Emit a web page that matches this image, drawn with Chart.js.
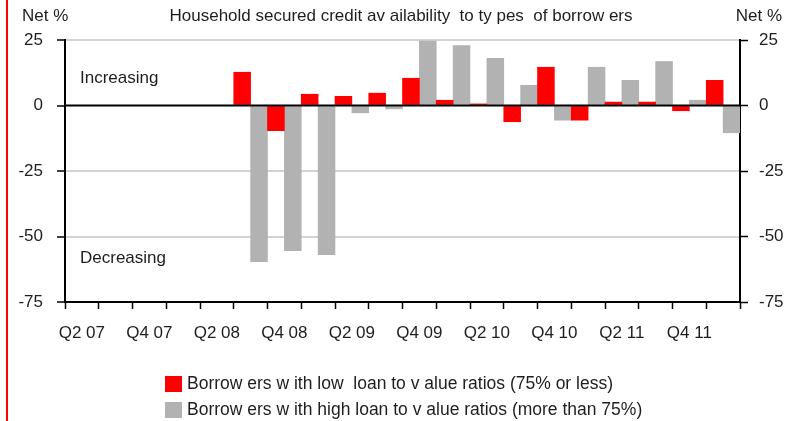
<!DOCTYPE html>
<html>
<head>
<meta charset="utf-8">
<script src="https://cdn.jsdelivr.net/npm/chart.js@4/dist/chart.umd.min.js"></script>
<style>
  html, body { margin: 0; padding: 0; background: #fff; }
  #wrap { position: relative; width: 796px; height: 421px; }
</style>
</head>
<body>
<div id="wrap"><canvas id="c" width="796" height="421"></canvas></div>
<script>
// Quarterly survey balances, net % of lenders
const quarters = ['Q2 07','Q3 07','Q4 07','Q1 08','Q2 08','Q3 08','Q4 08','Q1 09','Q2 09','Q3 09',
                  'Q4 09','Q1 10','Q2 10','Q3 10','Q4 10','Q1 11','Q2 11','Q3 11','Q4 11','Q1 12'];
const lowLtv  = [null, null, null, null, null, 12.7, -9.6, 4.3, 3.5, 4.7,
                 10.4, 2.0, 0.6, -6.2, 14.6, -5.6, 1.3, 1.3, -2.0, 9.6];
const highLtv = [null, null, null, null, null, -59.6, -55.4, -56.9, -2.8, -1.3,
                 24.6, 22.9, 18.0, 7.7, -5.6, 14.6, 9.6, 16.8, 2.0, -10.4];
const yTicks = [25, 0, -25, -50, -75];
const seriesNames = ['Borrow ers w ith low  loan to v alue ratios (75% or less)',
                     'Borrow ers w ith high loan to v alue ratios (more than 75%)'];
const titleText = 'Household secured credit av ailability  to ty pes  of borrow ers';

const FONT = '"Liberation Sans", Arial, sans-serif';
const TEXT = '#1e1e1e';

const decorations = {
  id: 'decorations',
  afterDatasetsDraw(chart) {
    const { ctx, chartArea: a, scales } = chart;
    const y0 = scales.y.getPixelForValue(0);
    ctx.save();
    ctx.strokeStyle = '#000';
    ctx.lineWidth = 2;
    ctx.beginPath();
    ctx.moveTo(a.left, y0);
    ctx.lineTo(a.right, y0);
    ctx.stroke();
    ctx.restore();
  },
  afterDraw(chart) {
    const { ctx, scales } = chart;
    ctx.save();
    // red rule down the left edge
    ctx.fillStyle = '#ff0000';
    ctx.fillRect(6, 0, 2, chart.height);

    ctx.fillStyle = TEXT;
    ctx.font = '17px ' + FONT;
    ctx.textBaseline = 'middle';
    // title and axis captions
    ctx.textAlign = 'center';
    ctx.fillText(titleText, 401, 16);
    ctx.textAlign = 'left';
    ctx.fillText('Net %', 22, 16);
    ctx.textAlign = 'right';
    ctx.fillText('Net %', 782, 16);

    // region notes
    ctx.textAlign = 'left';
    ctx.fillText('Increasing', 80, scales.y.getPixelForValue(10.2));
    ctx.fillText('Decreasing', 80, scales.y.getPixelForValue(-58.5));

    // legend
    ctx.font = '17.5px ' + FONT;
    const rows = [384, 410];
    rows.forEach((yy, i) => {
      ctx.fillStyle = chart.data.datasets[i].backgroundColor;
      ctx.fillRect(165, yy - 8, 17, 16);
      ctx.fillStyle = TEXT;
      ctx.fillText(chart.data.datasets[i].label, 187, yy);
    });
    ctx.restore();
  }
};

new Chart(document.getElementById('c'), {
  type: 'bar',
  data: {
    labels: quarters,
    datasets: [
      { label: seriesNames[0], data: lowLtv, backgroundColor: '#ff0000', yAxisID: 'y',
        barPercentage: 1.0, categoryPercentage: 1.0, borderWidth: 0 },
      { label: seriesNames[1], data: highLtv, backgroundColor: '#b2b2b2', yAxisID: 'y',
        barPercentage: 1.0, categoryPercentage: 1.0, borderWidth: 0 }
    ]
  },
  options: {
    responsive: false,
    animation: false,
    devicePixelRatio: 1,
    layout: { padding: { top: 40, left: 0, right: 0, bottom: 0 } },
    plugins: { legend: { display: false }, title: { display: false }, tooltip: { enabled: false } },
    scales: {
      x: {
        grid: { offset: true, drawOnChartArea: false, drawTicks: true, tickLength: 7,
                tickColor: '#000', tickWidth: 1.5 },
        border: { display: true, color: '#000', width: 2 },
        ticks: {
          autoSkip: false, maxRotation: 0, minRotation: 0, padding: 14,
          color: TEXT, font: { family: FONT, size: 17 },
          callback: (v, i) => (i % 2 === 0 ? quarters[i] : '')
        },
        afterFit: s => { s.height = 119; }
      },
      y: {
        position: 'left', min: -75, max: 25,
        afterBuildTicks: s => { s.ticks = yTicks.map(v => ({ value: v })); },
        grid: {
          color: c => (c.tick && (c.tick.value === 0 || c.tick.value === -75)) ? 'rgba(0,0,0,0)' : '#d2d2d2',
          lineWidth: 2, tickLength: 8, tickColor: '#000', tickWidth: 1.5
        },
        border: { display: true, color: '#000', width: 2 },
        ticks: { padding: 14, color: TEXT, font: { family: FONT, size: 17 } },
        afterFit: s => { s.width = 65; }
      },
      y2: {
        position: 'right', min: -75, max: 25,
        afterBuildTicks: s => { s.ticks = yTicks.map(v => ({ value: v })); },
        grid: { drawOnChartArea: false, tickLength: 8, tickColor: '#000', tickWidth: 1.5 },
        border: { display: true, color: '#000', width: 2 },
        ticks: { padding: 11, color: TEXT, font: { family: FONT, size: 17 } },
        afterFit: s => { s.width = 56; }
      }
    }
  },
  plugins: [decorations]
});
</script>
</body>
</html>
